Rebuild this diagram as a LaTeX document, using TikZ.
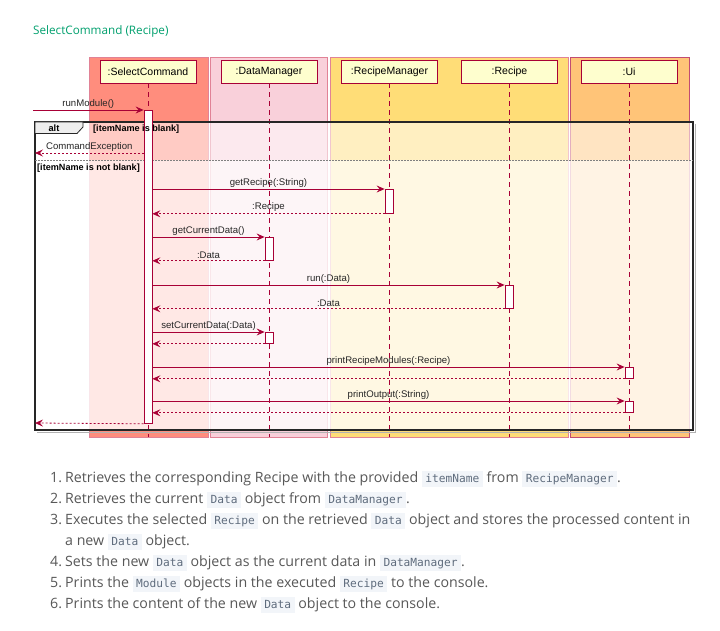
\documentclass[tikz,border=0pt]{standalone}
\usepackage{fontspec}
\usetikzlibrary{arrows.meta}
\newfontfamily\diagfont{Liberation Sans}
\newfontfamily\listfont{Open Sans}
\newfontfamily\codefont{DejaVu Sans Mono}
\definecolor{titlegreen}{RGB}{0,160,110}
\definecolor{crimson}{RGB}{168,0,54}
\definecolor{partfill}{RGB}{254,254,206}
\definecolor{redgrp}{RGB}{255,141,125}
\definecolor{pinkgrp}{RGB}{249,208,218}
\definecolor{yellowgrp}{RGB}{255,221,119}
\definecolor{orangegrp}{RGB}{255,196,120}
\definecolor{boxedge}{RGB}{225,130,150}
\definecolor{tabgray}{RGB}{238,238,238}
\definecolor{listgray}{RGB}{88,88,88}
\definecolor{codebg}{RGB}{242,245,249}
\definecolor{codetext}{RGB}{95,108,125}
\newcommand{\inlinecode}[1]{{\setlength{\fboxsep}{2.5pt}\colorbox{codebg}{\hspace{1pt}\color{codetext}\codefont\fontsize{11.2}{13}\selectfont\vphantom{Ag}#1\hspace{1pt}}}}

\begin{document}
\begin{tikzpicture}[x=1pt, y=-1pt,
  partbox/.style={draw=crimson, fill=partfill, line width=0.8pt, minimum width=96pt, minimum height=23pt, inner sep=0pt, font=\diagfont\fontsize{10.5}{12}\selectfont},
  grpbox/.style={draw=boxedge, line width=0.5pt},
  lifeline/.style={draw=crimson, line width=0.7pt, dash pattern=on 5pt off 4pt},
  actbox/.style={draw=crimson, fill=white, line width=0.8pt, minimum width=8pt, inner sep=0pt, anchor=north},
  msgline/.style={draw=crimson, line width=0.8pt, -{Stealth[length=8pt,width=7pt,inset=3pt]}},
  retline/.style={msgline, dash pattern=on 2pt off 2pt},
  msglabel/.style={font=\diagfont\fontsize{9.6}{11}\selectfont, text=black!85, inner sep=1.5pt, above},
  guardtext/.style={font=\diagfont\bfseries\fontsize{9.1}{10}\selectfont, inner sep=0pt, anchor=base west},
  listitem/.style={font=\listfont\fontsize{14.2}{21}\selectfont, text=listgray, inner sep=0pt, anchor=base west}
]
\useasboundingbox (0,0) rectangle (720,631);
\fill[white] (0,0) rectangle (720,631);

%%% title %%%
\node[anchor=base west, inner sep=0pt, text=titlegreen, font=\listfont\fontsize{11.7}{14}\selectfont] (title) at (33,35) {SelectCommand (Recipe)};

%%% boxes %%%
\filldraw[grpbox, fill=redgrp] (89,57) rectangle (208,437);
\filldraw[grpbox, fill=pinkgrp] (210,57) rectangle (327,437);
\filldraw[grpbox, fill=yellowgrp] (330,57) rectangle (568,437);
\filldraw[grpbox, fill=orangegrp, draw=crimson!70] (570,57) rectangle (689,437);

%%% alt background %%%
\fill[white, fill opacity=0.55] (35,122) rectangle (693,160);
\fill[white, fill opacity=0.8] (35,160) rectangle (693,430);

%%% participants %%%
\node[partbox] (selcmd) at (148,71.5) {:SelectCommand};
\node[partbox] (datamgr) at (269,71.5) {:DataManager};
\node[partbox] (recipemgr) at (389.5,71.5) {:RecipeManager};
\node[partbox] (recipe) at (509.5,71.5) {:Recipe};
\node[partbox] (ui) at (629,71.5) {:Ui};

\coordinate (bottom) at (0,437);
\foreach \p in {selcmd,datamgr,recipemgr,recipe,ui}
  \draw[lifeline] (\p.south) -- (\p.south |- bottom);

%%% alt frame %%%
\draw[gray!60, line width=1pt] (37,432) -- (695,432) -- (695,124);
\draw[black!85, line width=1.5pt] (35,122) rectangle (693,430);
\draw[black!85, fill=tabgray, line width=0.8pt] (35,122) -- (83,122) -- (83,127) -- (77,133.5) -- (35,133.5) -- cycle;
\node[font=\diagfont\bfseries\fontsize{9.2}{10}\selectfont, inner sep=0pt] (alttag) at (54,128.5) {alt};
\draw[gray, line width=0.6pt, dash pattern=on 1.5pt off 1.5pt] (35,160) -- (693,160);

%%% activations %%%
\node[actbox, minimum height=313pt] (actSel) at (148,110) {};
\node[actbox, minimum height=24pt] (actRm) at (389,189) {};
\node[actbox, minimum height=23pt] (actDmA) at (269,237) {};
\node[actbox, minimum height=23pt] (actRc) at (509,285) {};
\node[actbox, minimum height=11pt] (actDmB) at (269,332) {};
\node[actbox, minimum height=11pt] (actUiA) at (629,367) {};
\node[actbox, minimum height=11pt] (actUiB) at (629,401) {};

%%% guards %%%
\node[guardtext] (blank) at (93,132) {[itemName is blank]};
\node[guardtext] (notblank) at (37,170.5) {[itemName is not blank]};

%%% messages %%%
\coordinate (entry) at (33,110);
\coordinate (exc) at (35,153);
\coordinate (done) at (35,423);
\draw[msgline] (entry) -- (actSel.north west) node[msglabel, midway] (lblRun) {runModule()};
\draw[retline] (actSel.west |- exc) -- (exc) node[msglabel, midway] (lblExc) {CommandException};

\draw[msgline] (actSel.east |- actRm.north) -- (actRm.north west) node[msglabel, midway] (lblGetRecipe) {getRecipe(:String)};
\draw[retline] (actRm.south west) -- (actSel.east |- actRm.south) node[msglabel, midway] (lblRecipe) {:Recipe};

\draw[msgline] (actSel.east |- actDmA.north) -- (actDmA.north west) node[msglabel, midway] (lblGetData) {getCurrentData()};
\draw[retline] (actDmA.south west) -- (actSel.east |- actDmA.south) node[msglabel, midway] (lblDataA) {:Data};

\draw[msgline] (actSel.east |- actRc.north) -- (actRc.north west) node[msglabel, midway] (lblRunRc) {run(:Data)};
\draw[retline] (actRc.south west) -- (actSel.east |- actRc.south) node[msglabel, midway] (lblDataB) {:Data};

\draw[msgline] (actSel.east |- actDmB.north) -- (actDmB.north west) node[msglabel, midway] (lblSetData) {setCurrentData(:Data)};
\draw[retline] (actDmB.south west) -- (actSel.east |- actDmB.south);

\draw[msgline] (actSel.east |- actUiA.north) -- (actUiA.north west) node[msglabel, midway] (lblPrintMods) {printRecipeModules(:Recipe)};
\draw[retline] (actUiA.south west) -- (actSel.east |- actUiA.south);

\draw[msgline] (actSel.east |- actUiB.north) -- (actUiB.north west) node[msglabel, midway] (lblPrintOut) {printOutput(:String)};
\draw[retline] (actUiB.south west) -- (actSel.east |- actUiB.south);

\draw[retline] (actSel.south west) -- (done);

%%% steps %%%
\node[listitem] (item1) at (50,482) {\makebox[15pt][l]{1.}Retrieves the corresponding Recipe with the provided \inlinecode{itemName} from \inlinecode{RecipeManager}.};
\node[listitem] (item2) at (50,503) {\makebox[15pt][l]{2.}Retrieves the current \inlinecode{Data} object from \inlinecode{DataManager}.};
\node[listitem] (item3) at (50,524) {\makebox[15pt][l]{3.}Executes the selected \inlinecode{Recipe} on the retrieved \inlinecode{Data} object and stores the processed content in};
\node[listitem] (item3b) at (65,545) {a new \inlinecode{Data} object.};
\node[listitem] (item4) at (50,566) {\makebox[15pt][l]{4.}Sets the new \inlinecode{Data} object as the current data in \inlinecode{DataManager}.};
\node[listitem] (item5) at (50,587) {\makebox[15pt][l]{5.}Prints the \inlinecode{Module} objects in the executed \inlinecode{Recipe} to the console.};
\node[listitem] (item6) at (50,608) {\makebox[15pt][l]{6.}Prints the content of the new \inlinecode{Data} object to the console.};
\end{tikzpicture}
\end{document}
